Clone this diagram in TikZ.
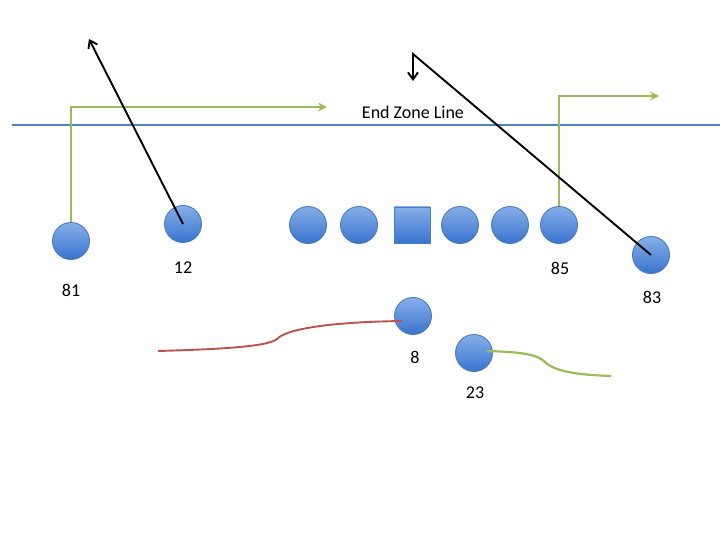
\documentclass[tikz,border=0pt]{standalone}
\usepackage{fontspec}
\setmainfont{Carlito}
\usetikzlibrary{arrows.meta,positioning}
\definecolor{playertop}{HTML}{86AEE8}
\definecolor{playerbot}{HTML}{3A74CF}
\definecolor{playerrim}{HTML}{4A7EBB}
\definecolor{zoneblue}{HTML}{4F81BD}
\definecolor{routegreen}{HTML}{9BBB59}
\definecolor{routered}{HTML}{C0504D}
\begin{document}
\begin{tikzpicture}[x=1pt,y=-1pt,>=Stealth,
  player/.style={circle,draw=playerrim,line width=0.9pt,minimum size=37pt,inner sep=0pt,
    top color=playertop,bottom color=playerbot},
  snapper/.style={rectangle,draw=playerrim,line width=0.9pt,minimum size=36pt,inner sep=0pt,
    top color=playertop,bottom color=playerbot},
  num/.style={font=\fontsize{18}{21}\selectfont},
  green route/.style={draw=routegreen,line width=2.2pt,-{Stealth[length=9pt,width=9pt]}},
  black route/.style={draw=black,line width=1.9pt,-{Straight Barb[length=7pt,width=10pt]}},
  block/.style={draw=routered,line width=1.9pt}]
\useasboundingbox (0,0) rectangle (720,540);
% end zone
\coordinate (ezl) at (12,125);
\coordinate (ezr) at (720,125);
\draw[zoneblue,line width=1.9pt] (ezl) -- (ezr);
\node[num] (ezlabel) at (413,112) {End Zone Line};
% line of scrimmage
\node[player] (p81) at (71,241) {};
\node[player] (p12) at (183,224) {};
\node[player] (lt) at (308,225) {};
\node[player] (lg) at (359,225) {};
\node[snapper] (c) at (412,225) {};
\node[player] (rg) at (460,225) {};
\node[player] (rt) at (510,225) {};
\node[player] (p85) at (559,225) {};
\node[player] (p83) at (651,255) {};
\node[player] (p8) at (413,316) {};
\node[player] (p23) at (474,353) {};
% numbers
\node[num] (l81) at (71,290) {81};
\node[num] (l12) at (183,268) {12};
\node[num] (l85) at (560,268) {85};
\node[num] (l83) at (652,297) {83};
\node[num] (l8) at (415,357) {8};
\node[num] (l23) at (475,393) {23};
% routes
\coordinate (t81) at (327,107);
\coordinate (t12) at (89,39);
\coordinate (k83) at (413,54);
\coordinate (t83) at (413,81);
\coordinate (t85) at (659,96);
\coordinate (s8) at (158,351);
\coordinate (e8) at (402,321);
\coordinate (s23) at (487,351);
\coordinate (e23) at (611,376);
\draw[green route] (p81.north) |- (t81);
\draw[green route] (p85.north) |- (t85);
\draw[black route] (p12.center) -- (t12);
\draw[black route] (p83.center) -- (k83) -- (t83);
\draw[block] (s8) .. controls (230,349) and (268,346) .. (277,339)
  .. controls (286,329) and (330,322) .. (e8);
\draw[routegreen,line width=2.2pt] (s23) .. controls (520,352) and (537,354) .. (545,362)
  .. controls (556,373) and (585,375) .. (e23);
\end{tikzpicture}
\end{document}
